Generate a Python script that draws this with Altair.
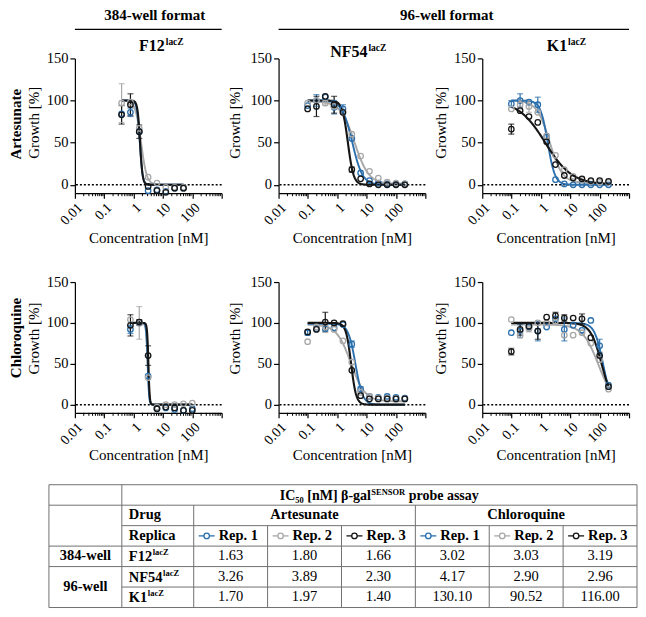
import altair as alt
import numpy as np
import pandas as pd

FONT = "Liberation Serif, Times New Roman, Times, DejaVu Serif, serif"
BLUE, GRAY, BLACK = "#2b6fad", "#a8a8a8", "#151515"
REPS = ["Rep. 1", "Rep. 2", "Rep. 3"]
REP_COLORS = [BLUE, GRAY, BLACK]
LINE = "#707070"

# ---------------- data ----------------
conc_384_art = [0.39, 0.78, 1.56, 3.125, 6.25, 12.5, 25, 50]
conc_384_cq = [0.78, 1.56, 3.125, 6.25, 12.5, 25, 50, 100]
conc_96 = [0.0977, 0.195, 0.39, 0.78, 1.56, 3.125, 6.25, 12.5, 25, 50, 100, 200]

# growth [%], one list per replicate (Rep. 1, Rep. 2, Rep. 3)
art_f12 = [[84, 86, 63, -7, -6, -8, -4, -4],
           [97, 98, 67, 9, 2, -3, -3, -3],
           [83, 95, 63, -2, -7, -9, -4, -4]]
art_f12_err = [[0, 5, 0, 0, 0, 0, 0, 0],
               [23, 0, 0, 0, 0, 0, 0, 0],
               [11, 13, 8, 0, 0, 0, 0, 0]]
art_nf54 = [[94, 100, 104, 92, 90, 55, 14, 5, 2, 1, 1, 1],
            [97, 100, 97, 93, 86, 60, 34, 16, 8, 3, 2, 1],
            [90, 93, 105, 95, 86, 18, 7, 1, 0, 0, 0, 0]]
art_nf54_err = [[0, 7, 0, 8, 5, 0, 0, 0, 0, 0, 0, 0],
                [0, 0, 3, 0, 0, 0, 0, 0, 0, 0, 0, 0],
                [0, 12, 0, 10, 0, 3, 0, 0, 0, 0, 0, 0]]
art_k1 = [[96, 100, 98, 95, 57, 6, 1, 0, 0, 0, 0, 0],
          [90, 95, 93, 86, 58, 35, 18, 10, 6, 4, 3, 3],
          [66, 88, 81, 74, 51, 24, 11, 8, 7, 5, 5, 4]]
art_k1_err = [[4, 8, 0, 9, 0, 0, 0, 0, 0, 0, 0, 0],
              [0, 5, 7, 0, 0, 0, 0, 0, 0, 0, 0, 0],
              [6, 0, 0, 0, 0, 0, 0, 0, 0, 0, 0, 0]]
cq_f12 = [[92, 100, 35, -5, -4, -6, -7, -5],
          [104, 100, 33, -3, 0, 0, 1, 2],
          [97, 101, 60, -5, -3, -4, -7, -7]]
cq_f12_err = [[5, 3, 0, 0, 0, 0, 0, 0],
              [0, 20, 0, 0, 0, 0, 0, 0],
              [13, 3, 12, 0, 0, 0, 0, 0]]
cq_nf54 = [[88, 93, 93, 94, 98, 74, 19, 10, 9, 10, 9, 8],
           [77, 95, 95, 92, 78, 52, 15, 10, 8, 8, 7, 7],
           [89, 92, 101, 100, 99, 42, 11, 7, 7, 7, 7, 7]]
cq_nf54_err = [[3, 0, 0, 0, 0, 4, 3, 0, 0, 0, 0, 0],
               [0, 0, 0, 0, 0, 0, 0, 0, 0, 0, 0, 0],
               [0, 0, 12, 0, 0, 0, 0, 0, 0, 0, 0, 0]]
cq_k1 = [[88, 90, 95, 90, 95, 105, 92, 97, 91, 103, 72, 24],
         [104, 85, 93, 100, 100, 102, 85, 85, 88, 75, 55, 19],
         [65, 92, 96, 90, 107, 109, 106, 106, 105, 82, 60, 22]]
cq_k1_err = [[0, 8, 0, 12, 0, 0, 14, 0, 0, 0, 8, 0],
             [0, 0, 4, 0, 0, 3, 0, 0, 0, 0, 0, 0],
             [4, 7, 0, 10, 0, 4, 4, 0, 6, 0, 0, 0]]

# IC50 table [nM]
strains = ["F12", "NF54", "K1"]
formats = ["384-well", "96-well"]
drugs = ["Artesunate", "Chloroquine"]
ic50_art = [[1.63, 1.80, 1.66], [3.26, 3.89, 2.30], [1.70, 1.97, 1.40]]
ic50_cq = [[3.02, 3.03, 3.19], [4.17, 2.90, 2.96], [130.10, 90.52, 116.00]]

# fitted curve parameters (hill slope, top, bottom) per replicate
hill_art = [[9, 4.5, 10], [2.5, 1.8, 4.5], [3.5, 2.0, 0.95]]
hill_cq = [[18, 15, 20], [3.5, 1.8, 5.0], [3.0, 1.6, 2.3]]
top_art = [[100, 100, 100], [100, 99, 100], [100, 100, 100]]
top_cq = [[100, 100, 100], [99, 98, 100], [100, 98, 100]]
bot_art = [[0, 0, 0], [0, 1, 0], [0, 2, 0]]
bot_cq = [[0, 0, 0], [0, 4, 0], [0, 0, 0]]

# ---------------- layout ----------------
W = 147
H1, H2 = 135, 131
GAP_T = 72          # row-2 plot bottom -> table top
one = pd.DataFrame({"a": [0]})
minor_vals = [m * 10.0 ** k for k in range(-2, 3) for m in range(2, 10)]


def hill(c, ic50, h, top, bottom):
    return bottom + (top - bottom) / (1 + (c / ic50) ** h)


def txt(s, x, y, size, weight="normal", align="center", baseline="middle", angle=0):
    return alt.Chart(one).mark_text(
        text=s, font=FONT, fontSize=size, fontWeight=weight, align=align,
        baseline=baseline, angle=angle, color="black"
    ).encode(x=alt.value(x), y=alt.value(y))


def hrule(x1, x2, y):
    return alt.Chart(one).mark_rule(color="black", strokeWidth=1.2).encode(
        x=alt.value(x1), x2=alt.value(x2), y=alt.value(y))


def panel(conc, vals, errs, ic50s, hills, tops, bots, H, ytx, yty, xty, extras):
    xs = alt.Scale(type="log", domain=[0.01, 1000], nice=False)
    ys = alt.Scale(domain=[-10, 150], nice=False, zero=False)
    xaxis = alt.Axis(values=[0.01, 0.1, 1, 10, 100, 1000], format="~g", labelAngle=-45,
                     labelFont=FONT, labelFontSize=14, labelColor="black", labelPadding=2,
                     tickSize=5, tickColor="black", tickWidth=1.2, domainColor="black",
                     domainWidth=1.2, grid=False, titleFont=FONT, titleFontSize=15,
                     titleFontWeight="normal", titleColor="black", titleY=xty,
                     titleBaseline="middle")
    yaxis = alt.Axis(values=[0, 50, 100, 150], labelFont=FONT, labelFontSize=14.5,
                     labelColor="black", labelPadding=2, tickSize=5, tickColor="black",
                     tickWidth=1.2, domainColor="black", domainWidth=1.2, grid=False,
                     titleFont=FONT, titleFontSize=15, titleFontWeight="normal",
                     titleColor="black", titleX=ytx, titleY=yty, titleBaseline="middle")

    def X(f="conc"):
        return alt.X(f"{f}:Q", scale=xs, axis=xaxis, title="Concentration [nM]")

    def Y(f="g"):
        return alt.Y(f"{f}:Q", scale=ys, axis=yaxis, title="Growth [%]")

    col = alt.Color("rep:N", scale=alt.Scale(domain=REPS, range=REP_COLORS), legend=None)

    rows = []
    for r in range(3):
        for c, v, e in zip(conc, vals[r], errs[r]):
            rows.append(dict(rep=REPS[r], conc=c, g=v, lo=v - e, hi=v + e, err=e))
    pts = pd.DataFrame(rows)
    eb = pts[pts.err > 0]

    layers = [alt.Chart(pd.DataFrame({"g": [0]})).mark_rule(
        color="black", strokeDash=[2, 2], strokeWidth=1.5).encode(y=Y())]
    layers.append(alt.Chart(pd.DataFrame({"conc": minor_vals})).mark_rule(
        color="black", strokeWidth=1).encode(x=X(), y=alt.value(H), y2=alt.value(H + 3)))
    for r in [1, 0, 2]:
        grid = np.geomspace(conc[0], conc[-1], 200)
        cdf = pd.DataFrame({"conc": grid,
                            "g": hill(grid, ic50s[r], hills[r], tops[r], bots[r])})
        layers.append(alt.Chart(cdf).mark_line(
            color=REP_COLORS[r], strokeWidth=2.1 if r == 2 else 1.9).encode(x=X(), y=Y()))
    layers.append(alt.Chart(eb).mark_rule(strokeWidth=1.2).encode(
        x=X(), y=Y("lo"), y2="hi:Q", color=col))
    layers.append(alt.Chart(eb).mark_tick(orient="horizontal", size=6, thickness=1.2).encode(
        x=X(), y=Y("lo"), color=col))
    layers.append(alt.Chart(eb).mark_tick(orient="horizontal", size=6, thickness=1.2).encode(
        x=X(), y=Y("hi"), color=col))
    layers.append(alt.Chart(pts).mark_point(
        shape="circle", filled=False, size=30, strokeWidth=1.3, opacity=1).encode(
        x=X(), y=Y(), color=col))
    layers += extras
    return alt.layer(*layers)


def title_parts(base, sup, anchor, baseline_y):
    return [txt(base, anchor, baseline_y, 16, "bold", "right", "alphabetic"),
            txt(sup, anchor + 1, baseline_y - 6, 9.5, "bold", "left", "alphabetic")]


SPAN = W + 57 + W

p11 = panel(conc_384_art, art_f12, art_f12_err, ic50_art[0], hill_art[0], top_art[0],
            bot_art[0], H1, -41, 64, 44,
            [txt("384-well format", 80, -43, 15, "bold"), hrule(0, W, -29),
             txt("Artesunate", -59, 66, 15, "bold", angle=270)]
            + title_parts("F12", "lacZ", 90, -7)).properties(width=W, height=H1)
p12 = panel(conc_96, art_nf54, art_nf54_err, ic50_art[1], hill_art[1], top_art[1],
            bot_art[1], H1, -44, 64, 44,
            [txt("96-well format", SPAN / 2 - 7, -43, 15, "bold"), hrule(0, SPAN, -29)]
            + title_parts("NF54", "lacZ", 89, -1)).properties(width=W, height=H1)
p13 = panel(conc_96, art_k1, art_k1_err, ic50_art[2], hill_art[2], top_art[2],
            bot_art[2], H1, -42, 64, 44,
            title_parts("K1", "lacZ", 85, -7)).properties(width=W, height=H1)
p21_plot = panel(conc_384_cq, cq_f12, cq_f12_err, ic50_cq[0], hill_cq[0], top_cq[0],
                 bot_cq[0], H2, -41, 56, 42,
                 [txt("Chloroquine", -59, 56, 15, "bold", angle=270)])
p22 = panel(conc_96, cq_nf54, cq_nf54_err, ic50_cq[1], hill_cq[1], top_cq[1],
            bot_cq[1], H2, -44, 56, 42, []).properties(width=W, height=H2)
p23 = panel(conc_96, cq_k1, cq_k1_err, ic50_cq[2], hill_cq[2], top_cq[2],
            bot_cq[2], H2, -42, 56, 42, []).properties(width=W, height=H2)

# ---------------- table (drawn below the first chloroquine panel) ----------------
cw = {' ': 250, '[': 333, ']': 333, '-': 333, '.': 250, 'F': 611, 'I': 389, 'C': 722,
      'N': 722, 'K': 778, 'M': 944, 'S': 556, 'E': 667, 'O': 778, 'R': 722, 'Z': 667,
      'a': 500, 'b': 556, 'c': 444, 'e': 444, 'g': 500, 'l': 278, 'n': 556, 'o': 500,
      'p': 556, 'r': 444, 's': 389, 'y': 500, 'β': 556}


def tw(s, size):
    return sum(cw.get(ch, 500) for ch in s) * size / 1000.0


edges = [0, 73, 145, 219, 293, 367, 441, 515, 589]
rowy = [0, 20.5, 41, 61.5, 82, 102.5, 123]
rc = [(rowy[i] + rowy[i + 1]) / 2 for i in range(6)]
# table units = pixels; table x=26 sits on the panel's left edge,
# table y=0 sits GAP_T px below the panel's bottom edge
tx = alt.Scale(domain=[26, 26 + W], nice=False, zero=False)
ty = alt.Scale(domain=[-(H2 + GAP_T), -GAP_T], nice=False, zero=False, reverse=True)

hl = pd.DataFrame({"x1": [0, 0, 73, 0, 0, 73, 0],
                   "x2": [589] * 7, "y": rowy})
vl = pd.DataFrame({"x": [0, 73, 145, 219, 293, 367, 441, 515, 589],
                   "y1": [0, 0, 20.5, 41, 41, 20.5, 41, 41, 0],
                   "y2": [123] * 9})

bold_c = pd.DataFrame({"x": [36.5, 36.5, 256, 478],
                       "y": [rc[3], (rowy[4] + rowy[6]) / 2, rc[1], rc[1]],
                       "t": [formats[0], formats[1], drugs[0], drugs[1]]})
lefts = [{"x": 80, "y": rc[1], "t": "Drug"}, {"x": 80, "y": rc[2], "t": "Replica"}]
glyph_lines, glyph_pts = [], []
for k in range(6):
    L = edges[2 + k]
    lefts.append({"x": L + 25, "y": rc[2], "t": REPS[k % 3]})
    glyph_lines.append({"x1": L + 5, "x2": L + 21, "y": rc[2], "rep": REPS[k % 3]})
    glyph_pts.append({"x": L + 13, "y": rc[2], "rep": REPS[k % 3]})
bold_l = pd.DataFrame(lefts)

vals = []
for i in range(3):
    row = ic50_art[i] + ic50_cq[i]
    for k, v in enumerate(row):
        vals.append({"x": (edges[2 + k] + edges[3 + k]) / 2, "y": rc[3 + i], "t": f"{v:.2f}"})
vals = pd.DataFrame(vals)

pieces = []
head = [("IC", 14, 0), ("50", 8.5, 3), (" [nM] β-gal", 14, 0), ("SENSOR", 8.5, -5),
        (" probe assay", 14, 0)]
total = sum(tw(s, sz) for s, sz, _ in head)
x = (73 + 589) / 2 - total / 2
for s, sz, dy in head:
    lead = tw(s[: len(s) - len(s.lstrip())], sz)
    pieces.append({"x": x + lead, "y": rc[0] + 5 + dy, "t": s.strip(), "fs": sz})
    x += tw(s, sz)
for i, st in enumerate(strains):
    pieces.append({"x": 80, "y": rc[3 + i] + 5, "t": st, "fs": 14.5})
    pieces.append({"x": 80 + tw(st, 14.5) + 0.5, "y": rc[3 + i] + 5 - 6, "t": "lacZ", "fs": 8.5})
pieces = pd.DataFrame(pieces)


def TX(f="x"):
    return alt.X(f"{f}:Q", scale=tx, axis=None)


def TY(f="y"):
    return alt.Y(f"{f}:Q", scale=ty, axis=None)


tcol = alt.Color("rep:N", scale=alt.Scale(domain=REPS, range=REP_COLORS), legend=None)
table = alt.layer(
    alt.Chart(hl).mark_rule(color=LINE, strokeWidth=1).encode(x=TX("x1"), x2="x2:Q", y=TY()),
    alt.Chart(vl).mark_rule(color=LINE, strokeWidth=1).encode(x=TX(), y=TY("y1"), y2="y2:Q"),
    alt.Chart(pd.DataFrame(glyph_lines)).mark_rule(strokeWidth=1.3).encode(
        x=TX("x1"), x2="x2:Q", y=TY(), color=tcol),
    alt.Chart(pd.DataFrame(glyph_pts)).mark_point(
        shape="circle", filled=True, fill="white", size=30, strokeWidth=1.3, opacity=1).encode(
        x=TX(), y=TY(), stroke=alt.Stroke("rep:N", scale=alt.Scale(domain=REPS, range=REP_COLORS),
                                          legend=None)),
    alt.Chart(bold_c).mark_text(font=FONT, fontSize=14.5, fontWeight="bold", color="black",
                                align="center", baseline="middle").encode(x=TX(), y=TY(), text="t:N"),
    alt.Chart(bold_l).mark_text(font=FONT, fontSize=14.5, fontWeight="bold", color="black",
                                align="left", baseline="middle").encode(x=TX(), y=TY(), text="t:N"),
    alt.Chart(vals).mark_text(font=FONT, fontSize=14.5, color="black",
                              align="center", baseline="middle").encode(x=TX(), y=TY(), text="t:N"),
    alt.Chart(pieces).mark_text(font=FONT, fontWeight="bold", color="black",
                                align="left", baseline="alphabetic").encode(
        x=TX(), y=TY(), text="t:N", size=alt.Size("fs:Q", scale=None, legend=None)),
)

p21 = alt.layer(p21_plot, table).resolve_scale(
    x="independent", y="independent", color="independent").properties(width=W, height=H2)

chart = alt.concat(p11, p12, p13, p21, p22, p23, columns=3,
                   spacing={"row": 89, "column": 57}, bounds="flush"
                   ).properties(padding=0).configure_view(stroke=None)

chart.save("out.html", embed_options={"renderer": "svg", "actions": False})
